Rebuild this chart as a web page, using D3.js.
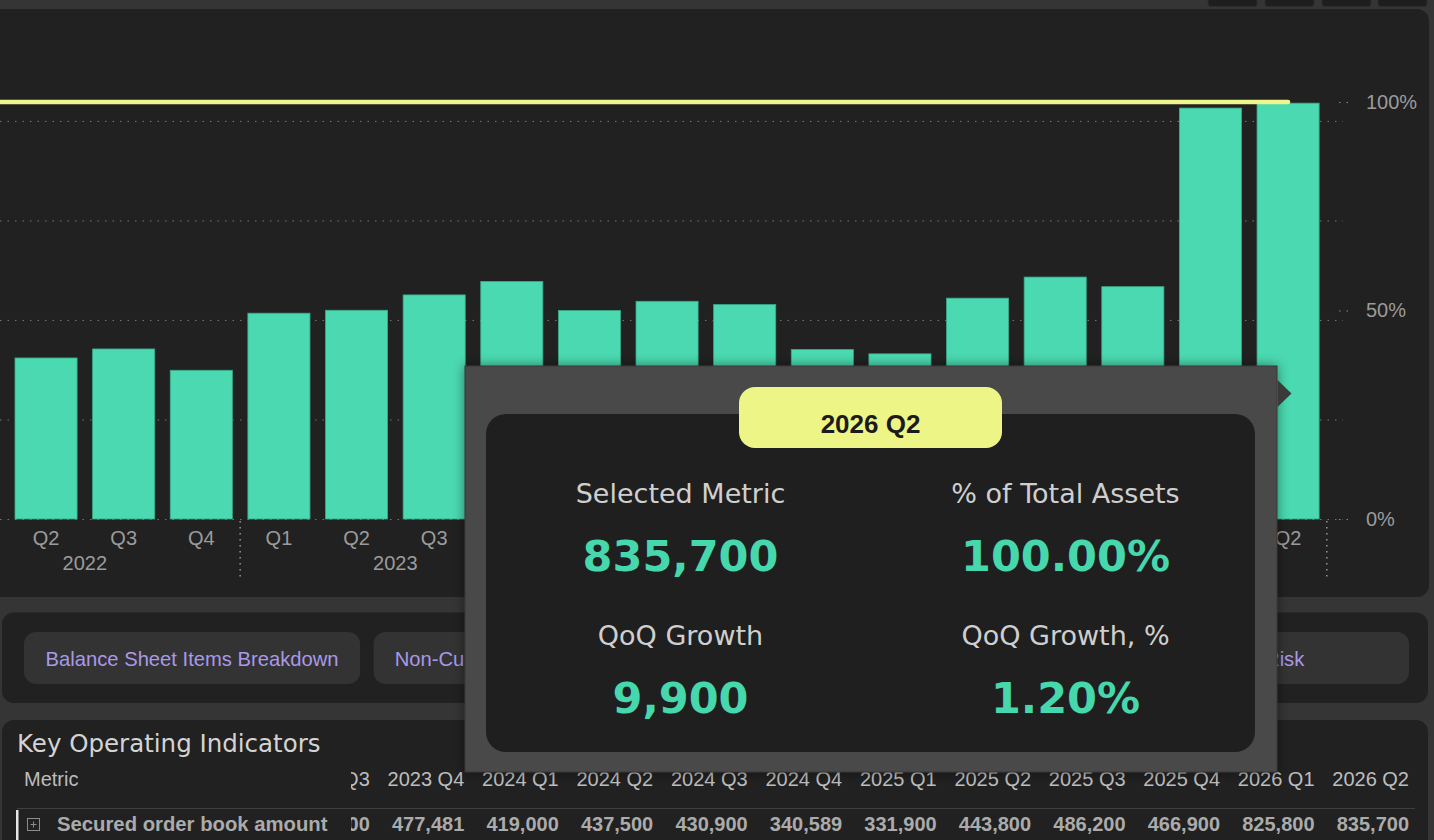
<!DOCTYPE html>
<html>
<head>
  <meta charset="utf-8">
  <title>Key Operating Indicators</title>
  <script src="https://d3js.org/d3.v7.min.js"></script>
  <style>
    body { margin: 0; background: #353535; overflow: hidden; }
    svg { display: block; font-family: "Liberation Sans", Arial, sans-serif; }
    .grid line { stroke: #767676; stroke-dasharray: 1.5 6; }
    .grid .domain { stroke: none; }
    .xaxis .domain, .raxis .domain { stroke: none; }
    .xaxis text, .raxis text { fill: #9b9b9b; font-size: 20px; font-family: "Liberation Sans", Arial, sans-serif; }
    .raxis line { stroke: #8a8a8a; stroke-dasharray: 1.5 6; }
  </style>
</head>
<body>
<script>
  // data
  const quarters = ["2022 Q1", "2022 Q2", "2022 Q3", "2022 Q4",
                    "2023 Q1", "2023 Q2", "2023 Q3", "2023 Q4",
                    "2024 Q1", "2024 Q2", "2024 Q3", "2024 Q4",
                    "2025 Q1", "2025 Q2", "2025 Q3", "2025 Q4",
                    "2026 Q1", "2026 Q2"];
  // secured order book amount (2022 Q1 is scrolled out of view)
  const orderBook = [null, 323600, 341700, 298900,
                     413600, 419500, 450300, 477481,
                     419000, 437500, 430900, 340589,
                     331900, 443800, 486200, 466900,
                     825800, 835700];
  // % of total assets (line, right axis)
  const pctOfAssets = [1, 1, 1, 1, 1, 1, 1, 1, 1, 1, 1, 1, 1, 1, 1, 1, 1, 1];
  const valueTicks = [0, 200000, 400000, 600000, 800000];
  const pctTicks = [0, 0.5, 1];
  const yMax = 838000;
  const tabs = ["Balance Sheet Items Breakdown", "Non-Current Assets Composition",
                "Liabilities Breakdown", "Currency Risk"];
  const selected = "2026 Q2";

  const W = 1434, H = 840;
  const barColor = "#4ad9b0";
  const lineColor = "#ecf68a";
  const fmt = d3.format(",");

  const svg = d3.select("body").append("svg")
      .attr("width", W).attr("height", H);

  const defs = svg.append("defs");
  const shadow = defs.append("filter").attr("id", "shadow")
      .attr("x", "-10%").attr("y", "-10%").attr("width", "120%").attr("height", "120%");
  shadow.append("feDropShadow").attr("dx", 0).attr("dy", 0)
      .attr("stdDeviation", 6).attr("flood-color", "#000").attr("flood-opacity", 0.45);
  defs.append("clipPath").attr("id", "colclip")
      .append("rect").attr("x", 351).attr("y", 755).attr("width", 1070).attr("height", 90);

  // top right toolbar stubs
  svg.selectAll(".tool")
      .data([1208, 1265, 1322, 1378])
      .enter().append("rect")
      .attr("x", d => d).attr("y", -10)
      .attr("width", 49).attr("height", 16.5)
      .attr("rx", 3)
      .attr("fill", "#1e1e1e").attr("stroke", "#2c2c2c");

  // panels
  svg.append("rect").attr("x", -20).attr("y", 9).attr("width", 1449).attr("height", 588)
      .attr("rx", 12).attr("fill", "#212121");
  svg.append("rect").attr("x", 2).attr("y", 612.5).attr("width", 1426).attr("height", 90.5)
      .attr("rx", 12).attr("fill", "#212121");
  svg.append("rect").attr("x", 2).attr("y", 720).attr("width", 1426).attr("height", 150)
      .attr("rx", 12).attr("fill", "#212121");

  // ---------- chart ----------
  const x = d3.scaleBand()
      .domain(quarters)
      .range([-70.4, 1326.9])
      .paddingInner(0.2)
      .paddingOuter(0.1);

  const y = d3.scaleLinear().domain([0, yMax]).range([519, 102]);
  const yPct = d3.scaleLinear().domain([0, 1]).range([519, 102]);

  const chart = svg.append("g");

  // gridlines from the (scrolled-away) left value axis
  chart.append("g")
      .attr("class", "grid")
      .call(d3.axisLeft(y).tickValues(valueTicks).tickSize(-1343).tickFormat(""));

  // bars
  chart.selectAll(".bar")
      .data(quarters.map((q, i) => ({q: q, v: orderBook[i]})).filter(d => d.v != null))
      .enter().append("rect")
      .attr("class", "bar")
      .attr("x", d => x(d.q))
      .attr("y", d => y(d.v))
      .attr("width", x.bandwidth())
      .attr("height", d => y(0) - y(d.v))
      .attr("fill", barColor)
      .attr("stroke", "#3aa98a")
      .attr("stroke-width", 0.8);

  // % of total assets line
  const line = d3.line()
      .x((d, i) => x(quarters[i]) + x.bandwidth() / 2)
      .y(d => yPct(d));
  chart.append("path")
      .datum(pctOfAssets)
      .attr("d", line)
      .attr("fill", "none")
      .attr("stroke", lineColor)
      .attr("stroke-width", 4.5)
      .attr("stroke-linecap", "round");

  // x axis: quarter labels (only those inside the visible scroll area)
  const visibleQ = quarters.filter(q => x(q) + x.bandwidth() / 2 > 0);
  chart.append("g")
      .attr("class", "xaxis")
      .attr("transform", "translate(0,519)")
      .call(d3.axisBottom(x).tickValues(visibleQ).tickSize(0).tickPadding(12)
              .tickFormat(d => d.split(" ")[1]));

  // year labels + separators
  const years = Array.from(new Set(quarters.map(q => q.split(" ")[0])));
  const gap = x.step() * x.paddingInner() / 2;
  years.forEach(yr => {
    const qs = quarters.filter(q => q.startsWith(yr));
    const x0 = x(qs[0]), x1 = x(qs[qs.length - 1]) + x.bandwidth();
    chart.append("text")
        .attr("x", (x0 + x1) / 2).attr("y", 570)
        .attr("text-anchor", "middle")
        .attr("fill", "#9b9b9b")
        .style("font-size", "20px")
        .text(yr);
    chart.append("line")
        .attr("x1", x1 + gap).attr("x2", x1 + gap)
        .attr("y1", 521).attr("y2", 577)
        .attr("stroke", "#cfcfcf")
        .attr("stroke-dasharray", "1.5 4.5");
  });

  // right percent axis
  chart.append("g")
      .attr("class", "raxis")
      .attr("transform", "translate(1339,0)")
      .call(d3.axisRight(yPct).tickValues(pctTicks).tickSize(12).tickPadding(15)
              .tickFormat(d3.format(".0%")));

  // ---------- tabs ----------
  const tabX = d3.scaleBand().domain(tabs).range([24, 1409]).paddingInner(13 / 336.25);
  const tab = svg.selectAll(".tab").data(tabs).enter().append("g").attr("class", "tab");
  tab.append("rect")
      .attr("x", d => tabX(d)).attr("y", 632)
      .attr("width", tabX.bandwidth()).attr("height", 52)
      .attr("rx", 12).attr("fill", "#333333");
  tab.append("text")
      .attr("x", d => tabX(d) + tabX.bandwidth() / 2).attr("y", 666)
      .attr("text-anchor", "middle")
      .attr("fill", "#a999e8")
      .style("font-size", "20.2px")
      .text(d => d);

  // ---------- table ----------
  svg.append("text")
      .attr("x", 17).attr("y", 752)
      .attr("fill", "#d4d4d4")
      .style("font-family", "'DejaVu Sans', Verdana, sans-serif")
      .style("font-size", "24.5px")
      .text("Key Operating Indicators");

  svg.append("text")
      .attr("x", 24).attr("y", 786)
      .attr("fill", "#bdbdbd").style("font-size", "20px")
      .text("Metric");

  svg.append("line")
      .attr("x1", 17).attr("x2", 1415).attr("y1", 808.5).attr("y2", 808.5)
      .attr("stroke", "#3e3e3e");

  svg.append("rect").attr("x", 16).attr("y", 810).attr("width", 2.5).attr("height", 40)
      .attr("fill", "#e6e6e6");
  svg.append("rect").attr("x", 27.5).attr("y", 818.5).attr("width", 12).attr("height", 12)
      .attr("fill", "none").attr("stroke", "#8c8c8c");
  svg.append("path").attr("d", "M30.5,824.5H36.5M33.5,821.5V827.5")
      .attr("stroke", "#8c8c8c");
  svg.append("text")
      .attr("x", 57).attr("y", 831)
      .attr("fill", "#ababab").style("font-size", "20.3px").style("font-weight", "bold")
      .text("Secured order book amount");

  // quarter columns, scrolled so that only 2023 Q3 onward peeks out
  const colX = d3.scaleBand().domain(quarters).range([-291.5, 1409]);
  const visibleCols = quarters
      .map((q, i) => ({q: q, v: orderBook[i]}))
      .filter(d => colX(d.q) + colX.bandwidth() > 351);
  const cols = svg.append("g").attr("clip-path", "url(#colclip)");
  cols.selectAll(".colhead").data(visibleCols).enter().append("text")
      .attr("x", d => colX(d.q) + colX.bandwidth())
      .attr("y", 786)
      .attr("text-anchor", "end")
      .attr("fill", "#bdbdbd").style("font-size", "20px")
      .text(d => d.q);
  cols.selectAll(".cell").data(visibleCols.filter(d => d.v != null))
      .enter().append("text")
      .attr("x", d => colX(d.q) + colX.bandwidth())
      .attr("y", 831)
      .attr("text-anchor", "end")
      .attr("fill", "#ababab").style("font-size", "20px").style("font-weight", "bold")
      .text(d => fmt(d.v));

  // ---------- tooltip ----------
  const si = quarters.indexOf(selected);
  const cur = orderBook[si], prev = orderBook[si - 1];
  const tipItems = [
    {label: "Selected Metric", value: fmt(cur)},
    {label: "% of Total Assets", value: d3.format(".2%")(pctOfAssets[si])},
    {label: "QoQ Growth", value: fmt(cur - prev)},
    {label: "QoQ Growth, %", value: d3.format(".2%")((cur - prev) / prev)}
  ];

  const tip = svg.append("g");
  tip.append("rect")
      .attr("x", 465).attr("y", 366).attr("width", 812).attr("height", 406)
      .attr("fill", "#484848").attr("stroke", "#363636")
      .attr("filter", "url(#shadow)");
  tip.append("path")
      .attr("d", "M1277.5,380L1291.5,393.5L1277.5,407Z")
      .attr("fill", "#3a3a3a");
  tip.append("rect")
      .attr("x", 486).attr("y", 414).attr("width", 769).attr("height", 338)
      .attr("rx", 20).attr("fill", "#1f1f1f");
  tip.append("rect")
      .attr("x", 739).attr("y", 387).attr("width", 263).attr("height", 61)
      .attr("rx", 16).attr("fill", "#eef587");
  tip.append("text")
      .attr("x", 870.5).attr("y", 432.5)
      .attr("text-anchor", "middle")
      .attr("fill", "#1b1b1b")
      .style("font-size", "26px").style("font-weight", "bold")
      .text(selected);

  const cellX = [680.5, 1065.5];
  const labelY = [502.7, 645];
  const valueY = [570.7, 713];
  tipItems.forEach((d, i) => {
    const cx = cellX[i % 2], r = Math.floor(i / 2);
    tip.append("text")
        .attr("x", cx).attr("y", labelY[r])
        .attr("text-anchor", "middle")
        .attr("fill", "#cfcfcf")
        .style("font-family", "'DejaVu Sans', Verdana, sans-serif")
        .style("font-size", "27px")
        .text(d.label);
    tip.append("text")
        .attr("x", cx).attr("y", valueY[r])
        .attr("text-anchor", "middle")
        .attr("fill", "#47d7ac")
        .style("font-family", "'DejaVu Sans', Verdana, sans-serif")
        .style("font-size", "43px").style("font-weight", "bold")
        .text(d.value);
  });
</script>
</body>
</html>
